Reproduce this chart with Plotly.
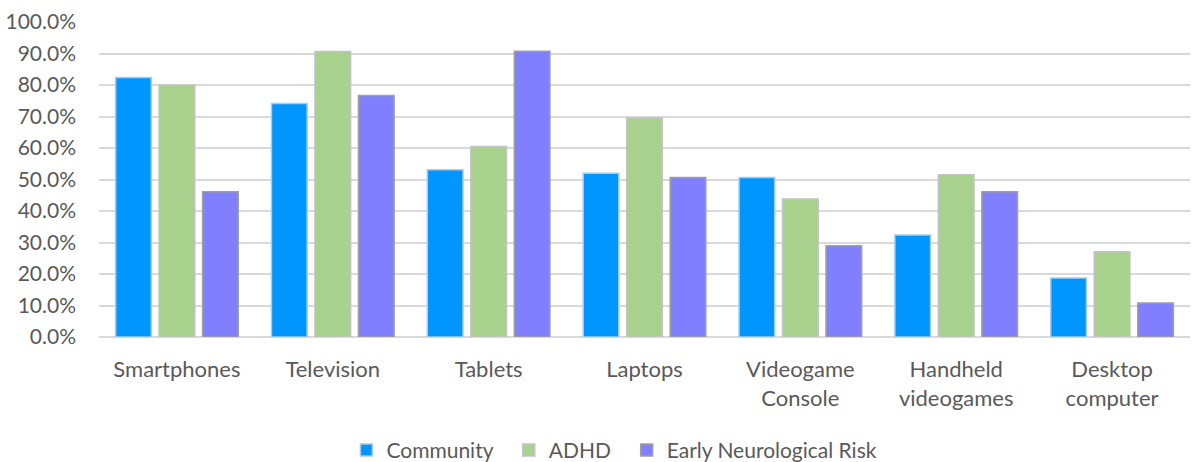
import plotly.graph_objects as go

categories = ["Smartphones", "Television", "Tablets", "Laptops",
              "Videogame<br>Console", "Handheld<br>videogames", "Desktop<br>computer"]
community = [82.4, 74.1, 53.1, 52.0, 50.6, 32.4, 18.7]
adhd = [80.0, 90.6, 60.5, 69.5, 43.8, 51.5, 27.1]
enr = [46.1, 76.7, 90.7, 50.6, 29.0, 46.1, 10.8]
tick_vals = [0, 10, 20, 30, 40, 50, 60, 70, 80, 90, 100]
series_names = ["Community", "ADHD", "Early Neurological Risk"]

fills = ["#0096FF", "#A9D18E", "#7F7FFF"]
edges = ["#A8CBEA", "#C3C3C3", "#A0A0A0"]

FONT = "Lato"
GREY = "#595959"

fig = go.Figure()
for name, vals, fill, edge in zip(series_names, [community, adhd, enr], fills, edges):
    fig.add_trace(go.Bar(
        x=categories, y=vals, name=name + "\u00a0\u00a0",
        marker=dict(color=fill, line=dict(color=edge, width=1.5)),
    ))

fig.update_layout(
    width=1199, height=462,
    margin=dict(l=99, r=9, t=22, b=125, autoexpand=False),
    paper_bgcolor="white", plot_bgcolor="white",
    barmode="group", bargap=0.163, bargroupgap=0.18,
    font=dict(family=FONT, size=21, color=GREY),
    legend=dict(orientation="h", x=0.477, xanchor="center", y=-0.36, yanchor="middle",
                font=dict(family=FONT, size=21, color=GREY), itemwidth=30,
                traceorder="normal"),
    showlegend=True,
)
fig.update_yaxes(range=[0, 100], tickvals=tick_vals, ticktext=[f"{v:.1f}%" for v in tick_vals],
                 showgrid=True, gridcolor="#D9D9D9", gridwidth=1.5,
                 zeroline=True, zerolinecolor="#D9D9D9", zerolinewidth=1.5,
                 showline=False, ticks="", ticklabelstandoff=22, automargin=False,
                 tickfont=dict(family=FONT, size=21, color=GREY))
fig.update_xaxes(showgrid=False, showline=False, ticks="", ticklabelstandoff=17,
                 automargin=False,
                 tickfont=dict(family=FONT, size=22, color=GREY))

fig.write_html("out.html")
